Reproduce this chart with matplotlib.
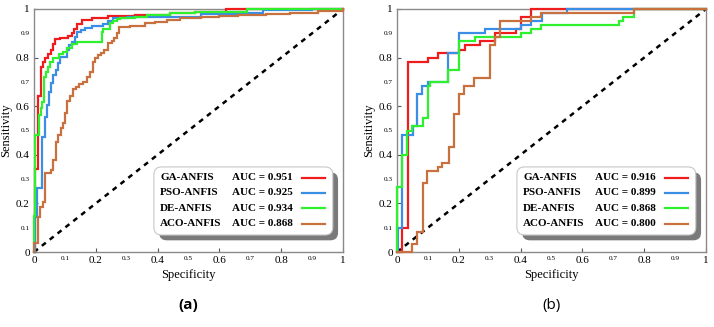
import matplotlib
matplotlib.use("Agg")
import matplotlib.pyplot as plt
from matplotlib.patches import FancyBboxPatch

# ---------------- data ----------------
names = ["GA-ANFIS", "PSO-ANFIS", "DE-ANFIS", "ACO-ANFIS"]
colors = ["#ee1c1c", "#3a8ee6", "#2ef02e", "#c8703e"]
auc_a = ["0.951", "0.925", "0.934", "0.868"]
auc_b = ["0.916", "0.899", "0.868", "0.800"]

# panel (a): corner points (fpr, tpr) ; at fpr[i] the curve rises to tpr[i]
ga_a_fpr = [0, 0.004, 0.014, 0.023, 0.030, 0.037, 0.046, 0.054, 0.060, 0.068, 0.084, 0.111, 0.122, 0.130,
            0.138, 0.154, 0.187, 0.240, 0.327, 0.44, 0.52, 0.62, 1.0]
ga_a_tpr = [0, 0.34, 0.643, 0.763, 0.78, 0.80, 0.813, 0.831, 0.855, 0.875, 0.882, 0.89, 0.902, 0.918,
            0.937, 0.955, 0.964, 0.971, 0.975, 0.982, 0.989, 1.0, 1.0]

pso_a_fpr = [0, 0.004, 0.009, 0.025, 0.036, 0.043, 0.050, 0.054, 0.063, 0.071, 0.079, 0.084, 0.106, 0.114,
             0.122, 0.133, 0.140, 0.151, 0.165, 0.187, 0.224, 0.240, 0.257, 0.30, 0.54, 0.69, 0.74, 0.90, 1.0]
pso_a_tpr = [0, 0.145, 0.263, 0.475, 0.557, 0.605, 0.66, 0.694, 0.728, 0.749, 0.776, 0.804, 0.831, 0.852,
             0.866, 0.886, 0.907, 0.914, 0.92, 0.931, 0.938, 0.95, 0.962, 0.968, 0.98, 0.985, 0.995, 1.0, 1.0]

de_a_fpr = [0, 0.0, 0.003, 0.017, 0.022, 0.026, 0.032, 0.039, 0.046, 0.052, 0.063, 0.082, 0.095, 0.108,
            0.122, 0.138, 0.165, 0.219, 0.224, 0.246, 0.257, 0.268, 0.278, 0.327, 0.365, 0.44, 0.521, 0.69, 1.0]
de_a_tpr = [0, 0.15, 0.48, 0.564, 0.591, 0.619, 0.72, 0.742, 0.763, 0.783, 0.80, 0.813, 0.824, 0.841,
            0.855, 0.866, 0.866, 0.907, 0.918, 0.941, 0.95, 0.959, 0.962, 0.968, 0.975, 0.982, 0.989, 1.0, 1.0]

aco_a_fpr = [0, 0.0, 0.014, 0.019, 0.028, 0.036, 0.054, 0.060, 0.071, 0.079, 0.088, 0.095, 0.101, 0.108,
             0.115, 0.125, 0.135, 0.147, 0.160, 0.172, 0.182, 0.190, 0.198, 0.207, 0.218, 0.228, 0.238,
             0.252, 0.260, 0.268, 0.275, 0.311, 0.359, 0.392, 0.43, 0.472, 0.54, 0.60, 0.66, 0.75, 0.83,
             0.92, 1.0]
aco_a_tpr = [0, 0.037, 0.145, 0.186, 0.207, 0.324, 0.337, 0.379, 0.454, 0.48, 0.51, 0.53, 0.57, 0.62,
             0.64, 0.67, 0.68, 0.69, 0.70, 0.72, 0.74, 0.78, 0.80, 0.81, 0.82, 0.83, 0.86,
             0.87, 0.88, 0.90, 0.927, 0.931, 0.941, 0.948, 0.955, 0.964, 0.968, 0.972, 0.976, 0.98, 0.985,
             0.99, 1.0]

# panel (b)
ga_b_fpr = [0, 0.017, 0.017, 0.035, 0.10, 0.133, 0.20, 0.219, 0.268, 0.317, 0.386, 0.40, 0.433, 1.0]
ga_b_tpr = [0, 0.033, 0.10, 0.783, 0.80, 0.817, 0.833, 0.85, 0.867, 0.90, 0.917, 0.967, 1.0, 1.0]

pso_b_fpr = [0, 0.003, 0.016, 0.052, 0.065, 0.081, 0.10, 0.165, 0.20, 0.284, 0.40, 0.433, 0.468, 0.55, 1.0]
pso_b_tpr = [0, 0.10, 0.483, 0.517, 0.65, 0.683, 0.70, 0.817, 0.90, 0.917, 0.933, 0.95, 0.983, 1.0, 1.0]

de_b_fpr = [0, 0.0, 0.017, 0.033, 0.050, 0.084, 0.10, 0.108, 0.165, 0.20, 0.252, 0.40, 0.433, 0.467,
            0.717, 0.732, 0.766, 1.0]
de_b_tpr = [0, 0.267, 0.40, 0.50, 0.517, 0.55, 0.683, 0.70, 0.75, 0.867, 0.883, 0.90, 0.917, 0.933,
            0.95, 0.967, 1.0, 1.0]

aco_b_fpr = [0, 0.049, 0.065, 0.083, 0.097, 0.132, 0.146, 0.167, 0.183, 0.20, 0.216, 0.25, 0.30, 0.318,
             0.334, 0.433, 0.467, 0.766, 1.0]
aco_b_tpr = [0, 0.033, 0.083, 0.283, 0.333, 0.35, 0.367, 0.433, 0.567, 0.65, 0.683, 0.717, 0.85, 0.883,
             0.95, 0.967, 0.983, 1.0, 1.0]

major_ticks = [0, 0.2, 0.4, 0.6, 0.8, 1]
major_labels = ["0", "0.2", "0.4", "0.6", "0.8", "1"]
minor_ticks = [0.1, 0.3, 0.5, 0.7, 0.9]
minor_labels = ["0.1", "0.3", "0.5", "0.7", "0.9"]

panels = [
    ("(a)", "bold", auc_a, [(ga_a_fpr, ga_a_tpr), (pso_a_fpr, pso_a_tpr), (de_a_fpr, de_a_tpr), (aco_a_fpr, aco_a_tpr)]),
    ("(b)", "normal", auc_b, [(ga_b_fpr, ga_b_tpr), (pso_b_fpr, pso_b_tpr), (de_b_fpr, de_b_tpr), (aco_b_fpr, aco_b_tpr)]),
]

plt.rcParams["font.family"] = ["Liberation Serif", "DejaVu Serif"]

W, H = 714, 327
fig = plt.figure(figsize=(W / 100, H / 100), dpi=100)
fig.patch.set_facecolor("white")

lefts = [34, 397]
for (plabel, pweight, aucs, curves), lpx in zip(panels, lefts):
    ax = fig.add_axes([lpx / W, 1 - 252 / H, 309 / W, 243 / H])
    for (fx, ty), c in zip(curves, colors):
        ax.plot(fx, ty, color=c, lw=1.6, drawstyle="steps-post", solid_joinstyle="miter",
                zorder=3, clip_on=False)
    ax.plot([0, 1], [0, 1], color="black", lw=1.8, dashes=(2.0, 2.0), zorder=2)
    ax.set_xlim(0, 1)
    ax.set_ylim(0, 1)
    for s in ax.spines.values():
        s.set_color("#8a8a8a")
        s.set_linewidth(1.0)
    ax.set_xticks(major_ticks)
    ax.set_xticklabels(major_labels, fontsize=8)
    ax.set_yticks(major_ticks)
    ax.set_yticklabels(major_labels, fontsize=8)
    ax.set_xticks(minor_ticks, minor=True)
    ax.set_xticklabels(minor_labels, minor=True, fontsize=5.2)
    ax.set_yticks(minor_ticks, minor=True)
    ax.set_yticklabels(minor_labels, minor=True, fontsize=5.2)
    ax.tick_params(which="major", direction="in", length=3, width=0.8, color="#555555", pad=3)
    ax.tick_params(which="minor", direction="in", length=0, pad=3)
    ax.set_xlabel("Specificity", fontsize=9, labelpad=3)
    ax.set_ylabel("Sensitivity", fontsize=9, labelpad=3)

    # legend box with shadow
    bx0, bx1, by0, by1 = 0.388, 0.967, 0.07, 0.35
    asp = 243 / 309
    shadow = FancyBboxPatch((bx0 + 0.017, by0 - 0.022), bx1 - bx0, by1 - by0,
                            boxstyle="round,pad=0,rounding_size=0.025", mutation_aspect=1 / asp,
                            transform=ax.transAxes, facecolor="#7a7a7a", edgecolor="none", zorder=4)
    box = FancyBboxPatch((bx0, by0), bx1 - bx0, by1 - by0,
                         boxstyle="round,pad=0,rounding_size=0.025", mutation_aspect=1 / asp,
                         transform=ax.transAxes, facecolor="white", edgecolor="#c8c8c8", lw=0.8, zorder=5)
    ax.add_patch(shadow)
    ax.add_patch(box)
    rows = [0.305, 0.243, 0.181, 0.117]
    for nm, au, c, ry in zip(names, aucs, colors, rows):
        ax.text(0.408, ry, nm, transform=ax.transAxes, fontsize=8, fontweight="bold",
                va="center", ha="left", zorder=6)
        ax.text(0.642, ry, "AUC = " + au, transform=ax.transAxes, fontsize=8, fontweight="bold",
                va="center", ha="left", zorder=6)
        ax.plot([0.866, 0.942], [ry, ry], transform=ax.transAxes, color=c, lw=1.6, zorder=6)

    fig.text((lpx + 154.5) / W, 1 - 305 / H, plabel, fontsize=11, fontweight=pweight,
             family=["Open Sans", "DejaVu Sans"], ha="center", va="center")

fig.savefig("out.png", dpi=100)
